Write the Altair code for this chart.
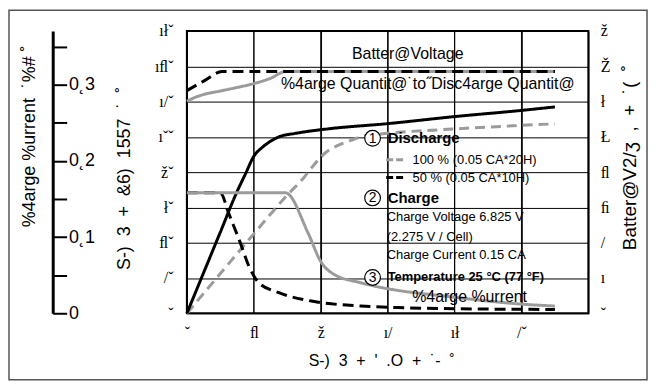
import altair as alt
import pandas as pd

# ---------------- data ----------------
SER100 = "100 % (0.05 CA*20H)"
SER50 = "50 % (0.05 CA*10H)"

# battery voltage (right axis, V)
volt100_h = [0, 0.5, 1, 2, 3, 4, 5, 5.9, 10, 16, 22]
volt100_v = [6.01, 6.12, 6.2, 6.3, 6.4, 6.51, 6.66, 6.85, 6.85, 6.85, 6.85]
volt50_h = [0, 1, 2.1, 8, 14, 22]
volt50_v = [6.31, 6.58, 6.85, 6.85, 6.85, 6.85]

# charge quantity (left axis, %)
qty100_h = [0, 2, 4, 6, 7, 7.5, 8, 8.5, 9, 9.8, 10.6, 12, 16, 20, 22]
qty100_q = [0, 22.5, 45, 67, 77, 83, 88.5, 92.5, 95, 98, 100.5, 102, 104.5, 106.5, 107.4]
qty50_h = [0, 1, 2, 3, 3.5, 4, 4.5, 5, 5.5, 6.5, 8.4, 12, 16, 20, 22]
qty50_q = [0, 23, 46, 69, 79, 89, 94, 97.5, 100, 102, 104.5, 107.5, 111.5, 115, 117]

# charge current (far-left axis, CA)
cur100_h = [0, 5.9, 7.25, 8, 8.8, 10.4, 12.6, 14, 16, 18, 20, 22]
cur100_c = [0.158, 0.158, 0.105, 0.068, 0.051, 0.040, 0.030, 0.026, 0.021, 0.016, 0.012, 0.0095]
cur50_h = [0, 2.0, 2.5, 3.2, 3.7, 4.3, 5.5, 7.45, 10.4, 12.6, 16, 22]
cur50_c = [0.158, 0.158, 0.131, 0.092, 0.062, 0.040, 0.027, 0.016, 0.0095, 0.0075, 0.006, 0.005]

# axis ticks and (as printed) tick labels
hour_ticks = [0, 4, 8, 12, 16, 20, 24]
hour_tick_labels = ["ˇ", "ﬂ", "ž", "ı/", "ıł", "/ˇ", ""]
qty_ticks = [0, 20, 40, 60, 80, 100, 120, 140, 160]
qty_tick_labels = ["ˇ", "/ˇ", "ﬂˇ", "łˇ", "žˇ", "ıˇˇ", "ı/ˇ", "ıﬂˇ", "ıłˇ"]
volt_ticks = [0, 1, 2, 3, 4, 5, 6, 7, 8]
volt_tick_labels = ["ˇ", "ı", "/", "ﬁ", "ﬂ", "Ł", "ł", "Ž", "ž"]
cur_ticks = [0, 0.05, 0.1, 0.15, 0.2, 0.25, 0.3, 0.35]
cur_tick_labels = ["0", "", "0˛1", "", "0˛2", "", "0˛3", ""]

S2 = "\u00a0 "
x_title = S2.join(["S-)", "3", "+", "'", ".O", "+", "˙-", "˚"])
qty_title = S2.join(["S-)", "3", "+", "&6)", "1557", "˙", "˚"])
volt_title = "Batter@V2/ʒ" + S2 + S2.join([",", "+", "˙(", "˚"])
cur_title = "%4arge %urrent" + S2 + "˙%#\u00a0˚"

# annotations (hours, charge-quantity %)
plain_texts = ["Batter@Voltage", "%4arge Quantit@˙to˝Disc4arge Quantit@", "%4arge %urrent"]
plain_h = [13.2, 14.4, 16.9]
plain_q = [147, 130, 9]
bold_texts = ["Discharge", "Charge"]
bold_h = [12.0, 12.0]
bold_q = [99.2, 65.4]
narrow_texts = ["Charge Voltage 6.825 V", "(2.275 V / Cell)", "Charge Current 0.15 CA"]
narrow_h = [11.94, 11.94, 11.94]
narrow_q = [54.6, 43.4, 33.2]
temp_texts = ["Temperature 25 °C (77 °F)"]
temp_h = [12.0]
temp_q = [20.3]
circle_nums = ["1", "2", "3"]
circle_h = [11.1, 11.1, 11.1]
circle_q = [99.2, 65.4, 20.3]

# ---------------- helpers ----------------
GRAY = "#9b9b9b"
SANS = "Liberation Sans"
SERIF = "Liberation Serif, DejaVu Serif"
W, H = 404, 284


def label_expr(ticks, labels):
    expr = "''"
    for t, l in reversed(list(zip(ticks, labels))):
        expr = f"abs(datum.value - {t}) < 1e-6 ? '{l}' : ({expr})"
    return expr


X_SCALE = alt.Scale(domain=[0, 24], nice=False, zero=False)
QTY_SCALE = alt.Scale(domain=[0, 160], nice=False, zero=False)
VOLT_SCALE = alt.Scale(domain=[0, 8], nice=False, zero=False)
CUR_SCALE = alt.Scale(domain=[0, 0.3703], nice=False, zero=False)

x_axis = alt.Axis(orient="bottom", values=hour_ticks, labelExpr=label_expr(hour_ticks, hour_tick_labels),
                  labelFont=SERIF, labelFontSize=16, labelColor="black", labelPadding=11,
                  labelFlush=False, labelOverlap=False, ticks=False, domain=False,
                  grid=True, gridColor="black", gridWidth=1, gridOpacity=1,
                  title=x_title, titleFont=SANS, titleFontSize=16, titleFontWeight="normal",
                  titleColor="black", titleX=122, titleY=48, titleAlign="left",
                  titleBaseline="middle", titleLimit=500)

qty_axis = alt.Axis(orient="left", values=qty_ticks, labelExpr=label_expr(qty_ticks, qty_tick_labels),
                    labelFont=SERIF, labelFontSize=16, labelColor="black", labelPadding=14,
                    labelFlush=False, labelOverlap=False, ticks=False, domain=False,
                    grid=True, gridColor="black", gridWidth=1, gridOpacity=1,
                    title=qty_title, titleFont=SANS, titleFontSize=18, titleFontWeight="normal",
                    titleColor="black", titleAngle=270, titleX=-63, titleY=240,
                    titleAlign="left", titleBaseline="middle", titleLimit=500)

volt_axis = alt.Axis(orient="right", values=volt_ticks, labelExpr=label_expr(volt_ticks, volt_tick_labels),
                     labelFont=SERIF, labelFontSize=16, labelColor="black", labelPadding=12,
                     labelFlush=False, labelOverlap=False, ticks=False, domain=False, grid=False,
                     title=volt_title, titleFont=SANS, titleFontSize=19, titleFontWeight="normal",
                     titleColor="black", titleAngle=270, titleX=41, titleY=220,
                     titleAlign="left", titleBaseline="middle", titleLimit=500)

cur_axis = alt.Axis(orient="right", offset=-(W + 135), values=cur_ticks,
                    labelExpr=label_expr(cur_ticks, cur_tick_labels),
                    labelFont=SANS, labelFontSize=18, labelColor="black", labelPadding=2,
                    labelFlush=False, labelOverlap=False, ticks=True, tickSize=14, tickWidth=2,
                    tickColor="black", domain=True, domainWidth=3, domainColor="black", grid=False,
                    title=cur_title, titleFont=SANS, titleFontSize=18, titleFontWeight="normal",
                    titleColor="black", titleAngle=270, titleX=-23, titleY=197,
                    titleAlign="left", titleBaseline="middle", titleLimit=500)

legend = alt.Legend(title=None, orient="none", legendX=199, legendY=119, symbolType="stroke",
                    symbolStrokeWidth=3, symbolSize=320, symbolDash=[7, 3],
                    labelFont=SANS, labelFontSize=13, labelColor="black", labelOffset=7,
                    rowPadding=0, padding=0)

color = alt.Color("series:N", scale=alt.Scale(domain=[SER100, SER50], range=[GRAY, "black"]),
                  legend=legend)

X_ENC = alt.X("h:Q", scale=X_SCALE, axis=x_axis)

# vertical grid lines at the hour ticks
vgrid = alt.Chart(pd.DataFrame({"h": hour_ticks})).mark_rule(color="black", strokeWidth=1).encode(
    x=X_ENC
)


def line(hs, vs, series, yscale, dash, axis=None):
    df = pd.DataFrame({"h": hs, "v": vs, "series": series})
    mk = alt.Chart(df).mark_line(strokeWidth=3, interpolate="monotone",
                                 strokeDash=dash if dash else [1, 0])
    return mk.encode(
        x=X_ENC,
        y=alt.Y("v:Q", scale=yscale, axis=axis),
        color=color,
    )


DASH = [11, 6]
qty100 = line(qty100_h, qty100_q, SER100, QTY_SCALE, [10, 6], axis=qty_axis)
qty50 = line(qty50_h, qty50_q, SER50, QTY_SCALE, None)
cur50 = line(cur50_h, cur50_c, SER50, CUR_SCALE, DASH, axis=cur_axis)
cur100 = line(cur100_h, cur100_c, SER100, CUR_SCALE, None)
volt100 = line(volt100_h, volt100_v, SER100, VOLT_SCALE, None, axis=volt_axis)
volt50 = line(volt50_h, volt50_v, SER50, VOLT_SCALE, DASH)


def texts(txt, hs, qs, **kw):
    df = pd.DataFrame({"t": txt, "h": hs, "q": qs})
    return alt.Chart(df).mark_text(color="black", **kw).encode(
        x=X_ENC,
        y=alt.Y("q:Q", scale=QTY_SCALE, axis=None),
        text="t:N",
    )


t_plain = texts(plain_texts, plain_h, plain_q, font=SANS, fontSize=16, align="center", baseline="middle")
t_bold = texts(bold_texts, bold_h, bold_q, font=SANS, fontSize=15, fontWeight="bold", align="left", baseline="middle")
t_narrow = texts(narrow_texts, narrow_h, narrow_q, font=SANS, fontSize=13, align="left", baseline="middle")
t_temp = texts(temp_texts, temp_h, temp_q, font=SANS, fontSize=13, fontWeight="bold", align="left", baseline="middle")

cdf = pd.DataFrame({"t": circle_nums, "h": circle_h, "q": circle_q})
circles = alt.Chart(cdf).mark_point(shape="circle", size=250, filled=False, fill="white",
                                    fillOpacity=1, stroke="black", strokeWidth=1.2, opacity=1).encode(
    x=X_ENC,
    y=alt.Y("q:Q", scale=QTY_SCALE, axis=None),
)
circle_txt = texts(circle_nums, circle_h, circle_q, font=SANS, fontSize=14, align="center", baseline="middle", dy=0.5)

frame = alt.Chart(pd.DataFrame({"a": [0]})).mark_rect(filled=False, stroke="#555555", strokeWidth=1.5).encode(
    x=alt.value(-179), x2=alt.value(463), y=alt.value(-21), y2=alt.value(351)
)

chart = alt.layer(
    vgrid, qty100, qty50, cur50, cur100, volt100, volt50,
    t_plain, t_bold, t_narrow, t_temp, circles, circle_txt, frame,
).resolve_scale(y="independent").properties(
    width=W, height=H,
    autosize=alt.AutoSizeParams(type="none"),
    padding={"left": 180, "top": 22, "right": 62, "bottom": 70},
    background="white",
).configure_view(stroke="black", strokeWidth=2)

chart.save("out.html", embed_options={"renderer": "svg", "actions": False})
